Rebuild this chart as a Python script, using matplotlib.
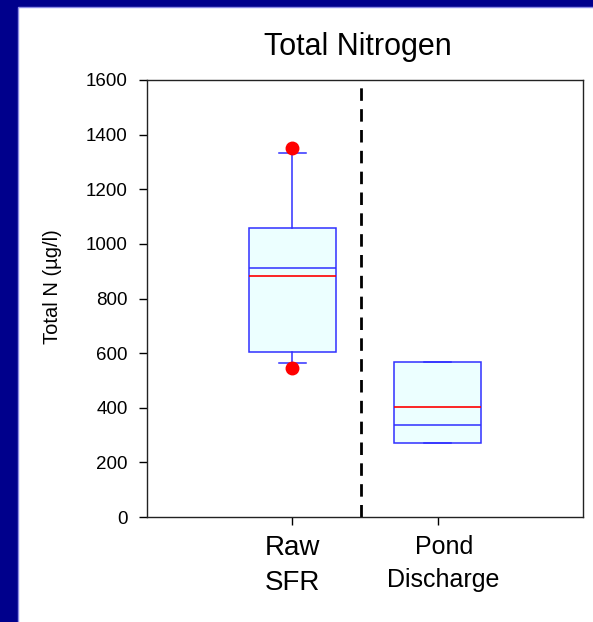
import matplotlib
matplotlib.use("Agg")
import matplotlib.pyplot as plt
from matplotlib.patches import Rectangle
from matplotlib.transforms import ScaledTranslation

# values (ug/l)
groups = ["Raw\nSFR", "Pond\nDischarge"]
medians = [913, 337]
means = [884, 404]
q1 = [605, 272]
q3 = [1057, 569]
whisker_low = [563, 272]
whisker_high = [1334, 569]
outliers = [[1350, 544], []]

y_ticks = [0, 200, 400, 600, 800, 1000, 1200, 1400, 1600]
divider_x = 1.47

plt.rcParams["font.family"] = ["Liberation Sans", "DejaVu Sans"]

W, H = 593, 622
fig = plt.figure(figsize=(W / 100, H / 100), dpi=100)
fig.patch.set_facecolor("#00008c")

# white slide panel over the blue background (runs off the right and bottom edges)
panel = Rectangle((18 / W, -0.1), 1.0, 1.1 - 7 / H, transform=fig.transFigure,
                  facecolor="white", edgecolor="#8c8ce6", linewidth=1, zorder=-5)
fig.patches.append(panel)

ax = fig.add_axes([147 / W, 1 - 517 / H, (583 - 147) / W, (517 - 80) / H])
ax.set_facecolor("none")

stats = []
for i in range(len(groups)):
    stats.append({
        "med": medians[i], "mean": means[i],
        "q1": q1[i], "q3": q3[i],
        "whislo": whisker_low[i], "whishi": whisker_high[i],
        "fliers": outliers[i],
    })

blue = "#3030ff"
ax.bxp(
    stats, positions=[1, 2], widths=0.6, patch_artist=True,
    showmeans=True, meanline=True, capwidths=0.19,
    boxprops=dict(facecolor="#ecffff", edgecolor=blue, linewidth=1.1),
    medianprops=dict(color=blue, linewidth=1.1),
    meanprops=dict(color="red", linestyle="-", linewidth=1.2),
    whiskerprops=dict(color=blue, linewidth=1.1),
    capprops=dict(color=blue, linewidth=1.1),
    flierprops=dict(marker="o", markerfacecolor="red", markeredgecolor="red",
                    markersize=9),
)

ax.axvline(divider_x, color="black", linestyle=(0, (4.5, 3)), linewidth=2)

ax.set_xlim(0, 3)
ax.set_ylim(0, 1600)
ax.set_yticks(y_ticks)
ax.set_xticks([1, 2])

ax.tick_params(axis="y", direction="out", length=6, width=1, pad=8, labelsize=13.5)
ax.tick_params(axis="x", direction="out", length=6, width=1, pad=7)
for s in ax.spines.values():
    s.set_linewidth(1)
    s.set_color("#222222")

ax.set_xticklabels(groups, linespacing=1.45)
raw_lbl, pond_lbl = ax.get_xticklabels()
raw_lbl.set_fontsize(20)
pond_lbl.set_fontsize(18)
# the second label sits a little right of its tick in the original
pond_lbl.set_transform(pond_lbl.get_transform()
                       + ScaledTranslation(6 / 100, 0, fig.dpi_scale_trans))

fig.text(358 / W, 1 - 47 / H, "Total Nitrogen", fontsize=22, ha="center", va="center")
fig.text(52 / W, 1 - 287 / H, "Total N (µg/l)", fontsize=14.5, rotation=90,
         ha="center", va="center")

fig.savefig("out.png", dpi=100, facecolor=fig.get_facecolor())
